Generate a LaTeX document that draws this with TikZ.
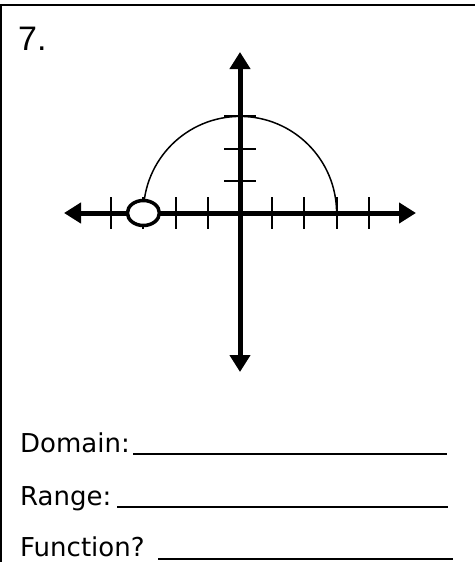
\documentclass[tikz,border=0pt]{standalone}
\usepackage{fontspec}
\setmainfont{DejaVu Sans}
\newfontfamily\numfont{Liberation Sans}
\usetikzlibrary{arrows.meta,calc,shapes.geometric}
\begin{document}
\begin{tikzpicture}[x=1pt,y=-1pt,
  axisline/.style={line width=5pt,{Triangle[length=17pt,width=20pt]}-{Triangle[length=17pt,width=20pt]}},
  tick/.style={line width=2pt},
  curve/.style={line width=1.5pt},
  frame/.style={line width=2pt},
  uline/.style={line width=2pt},
  lbl/.style={anchor=base west,inner sep=0pt,font=\fontsize{26}{30}\selectfont},
  opendot/.style={draw,fill=white,line width=3.5pt,ellipse,minimum width=32pt,minimum height=25pt,inner sep=0pt}]
\useasboundingbox (0,0) rectangle (475,562);
% frame
\draw[frame] (0,5) -- (475,5);
\draw[line width=1.5pt] (1,5) -- (1,562);
% title
\node[anchor=base west,inner sep=0pt,font=\numfont\fontsize{34}{40}\selectfont] (num) at (18,50) {7.};
% coordinates
\coordinate (O) at (240,213);
\coordinate (xl) at (64,213);
\coordinate (xr) at (416,213);
\coordinate (yt) at (240,52);
\coordinate (yb) at (240,372);
% semicircle
\draw[curve] (336.6,213) arc[start angle=0,end angle=180,x radius=96.6pt,y radius=96.6pt];
% ticks
\foreach \k in {-4,-3,-2,-1,1,2,3,4}
  \draw[tick] ($(O)+(\k*32.2,-16)$) -- ($(O)+(\k*32.2,16)$);
\foreach \k in {1,2,3}
  \draw[tick] ($(O)+(-16,-\k*32.2)$) -- ($(O)+(16,-\k*32.2)$);
% axes
\draw[axisline] (xl) -- (xr);
\draw[axisline] (yb) -- (yt);
% open dot
\node[opendot] (dot) at (143.4,213) {};
% answers
\node[lbl] (dom) at (20,452) {Domain:};
\node[lbl] (ran) at (20,505) {Range:};
\node[lbl] (fun) at (20,556) {Function?};
\coordinate (d1) at (133,454); \coordinate (d2) at (447,454);
\coordinate (r1) at (117,507); \coordinate (r2) at (448,507);
\coordinate (f1) at (158,559); \coordinate (f2) at (453,559);
\draw[uline] (d1) -- (d2);
\draw[uline] (r1) -- (r2);
\draw[uline] (f1) -- (f2);
\end{tikzpicture}
\end{document}
